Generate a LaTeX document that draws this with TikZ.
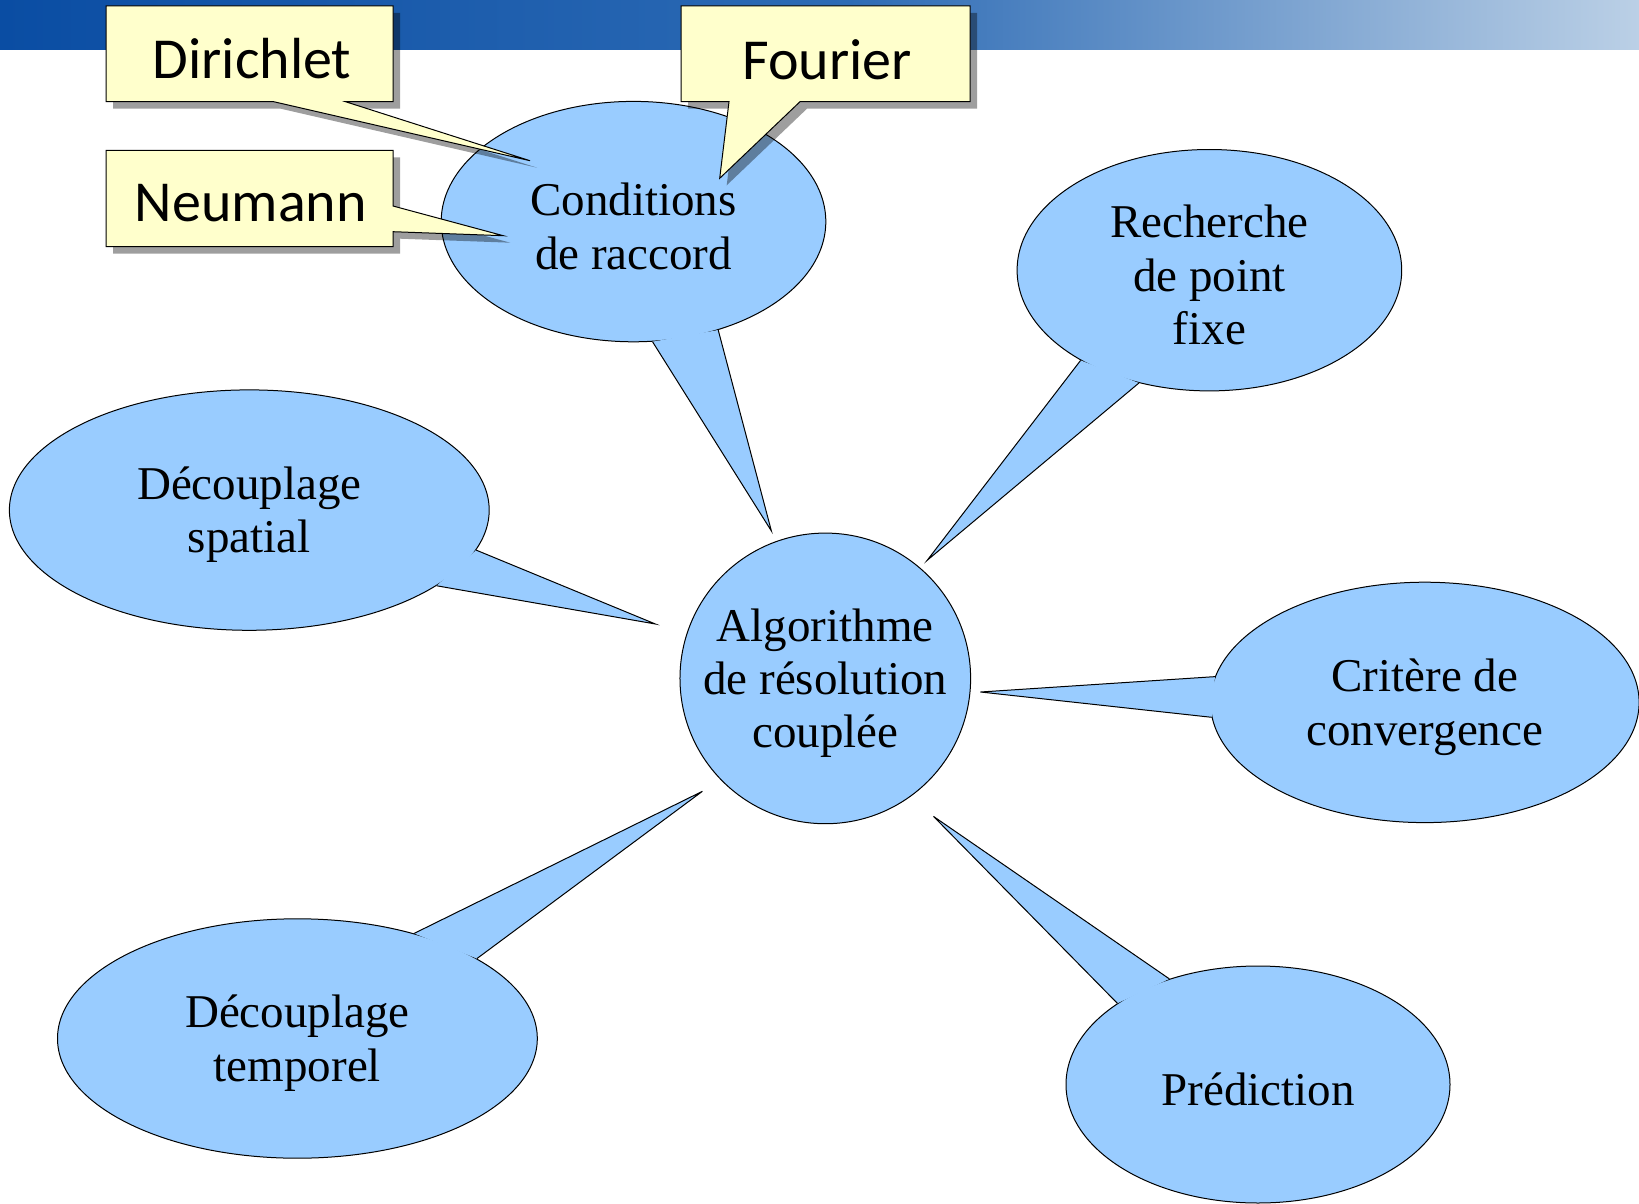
\documentclass[tikz,border=0pt]{standalone}
\usepackage{fontspec}
\setmainfont{Liberation Serif}
\newfontfamily\handfont{Carlito}
\usepackage{xcolor}
\usepackage{tikz}
\usetikzlibrary{shapes.geometric,calc,positioning}

\definecolor{bubbleblue}{HTML}{99CCFF}
\definecolor{noteyellow}{HTML}{FFFFCC}
\definecolor{banddark}{HTML}{0A4DA3}
\definecolor{bandmid}{HTML}{2D6BB5}
\definecolor{bandlight}{HTML}{BBD0E6}
\newcommand\topstrut{\rule{0pt}{0.9em}}

\tikzset{
  bubble/.style={ellipse, draw=black, fill=bubbleblue, line width=0.5pt, inner sep=0pt,
    align=center, font=\fontsize{23.5}{26.7}\selectfont},
  tailline/.style={draw=black, line width=0.5pt},
  note/.style={font=\handfont\fontsize{29}{32}\selectfont, inner sep=0pt},
  noteshade/.style={fill=black, opacity=.38},
  notebody/.style={fill=noteyellow, draw=black, line width=0.5pt},
}

\begin{document}
\begin{tikzpicture}[x=0.5pt,y=-0.5pt]
\useasboundingbox (0,0) rectangle (1639,1204);
% header band
\shade[left color=banddark, right color=bandmid] (0,0) rectangle (851,50);
\shade[left color=bandmid, right color=bandlight] (850,0) rectangle (1639,50);

% tips of the tails, all near the centre
\coordinate (tcond) at (771.4,531);
\coordinate (trech) at (927.2,560.3);
\coordinate (tspat) at (655.4,624);
\coordinate (tcrit) at (980.5,692);
\coordinate (ttemp) at (702.4,791.3);
\coordinate (tpred) at (933.5,816.4);

\node[bubble, circle, minimum size=143.7pt] (algo) at (825.3,678.4) {\topstrut Algorithme\\de résolution\\couplée};

\node[bubble, minimum width=192.3pt, minimum height=120.2pt] (cond) at (633.5,221.6) {\topstrut Conditions\\de raccord};
\fill[bubbleblue] (cond.279) -- (tcond) -- (cond.308) -- cycle;
\draw[tailline] (cond.279) -- (tcond) -- (cond.308);

\node[bubble, minimum width=192.3pt, minimum height=120.7pt] (rech) at (1209.4,270.2) {\topstrut Recherche\\de point\\fixe};
\fill[bubbleblue] (rech.215) -- (trech) -- (rech.238) -- cycle;
\draw[tailline] (rech.215) -- (trech) -- (rech.238);

\node[bubble, minimum width=239.9pt, minimum height=120.2pt] (spat) at (249.3,510.1) {\topstrut Découplage\\spatial};
\fill[bubbleblue] (spat.350) -- (tspat) -- (spat.338) -- cycle;
\draw[tailline] (spat.350) -- (tspat) -- (spat.338);

\node[bubble, minimum width=214.3pt, minimum height=120.2pt] (crit) at (1424.8,702.4) {\topstrut Critère de\\convergence};
\fill[bubbleblue] (crit.173) -- (tcrit) -- (crit.184) -- cycle;
\draw[tailline] (crit.173) -- (tcrit) -- (crit.184);

\node[bubble, minimum width=239.9pt, minimum height=119.7pt] (temp) at (297.4,1038.5) {\topstrut Découplage\\temporel};
\fill[bubbleblue] (temp.42) -- (ttemp) -- (temp.24) -- cycle;
\draw[tailline] (temp.42) -- (ttemp) -- (temp.24);

\node[bubble, minimum width=192pt, minimum height=118.5pt] (pred) at (1258,1084.5) {\topstrut Prédiction};
\fill[bubbleblue] (pred.150) -- (tpred) -- (pred.130) -- cycle;
\draw[tailline] (pred.150) -- (tpred) -- (pred.130);

% yellow notes and their shadows
\begin{scope}[shift={(7,7)}]
  \fill[noteshade] (106,6) -- (393,6) -- (393,101.7) -- (345.5,101.7) -- (530,160.7) -- (273.7,101.7) -- (106,101.7) -- cycle;
  \fill[noteshade] (681,6) -- (970,6) -- (970,101.7) -- (800,101.7) -- (719.7,178.3) -- (729,101.7) -- (681,101.7) -- cycle;
  \fill[noteshade] (106,150.5) -- (393,150.5) -- (393,206) -- (503.3,235.7) -- (393,231.7) -- (393,246.7) -- (106,246.7) -- cycle;
\end{scope}
\filldraw[notebody] (106,6) -- (393,6) -- (393,101.7) -- (345.5,101.7) -- (530,160.7) -- (273.7,101.7) -- (106,101.7) -- cycle;
\filldraw[notebody] (681,6) -- (970,6) -- (970,101.7) -- (800,101.7) -- (719.7,178.3) -- (729,101.7) -- (681,101.7) -- cycle;
\filldraw[notebody] (106,150.5) -- (393,150.5) -- (393,206) -- (503.3,235.7) -- (393,231.7) -- (393,246.7) -- (106,246.7) -- cycle;

\node[note] (dirichlet) at (252,59) {Dirichlet};
\node[note] (fourier) at (826.9,60) {Fourier};
\node[note] (neumann) at (250.9,203) {Neumann};
\end{tikzpicture}
\end{document}
